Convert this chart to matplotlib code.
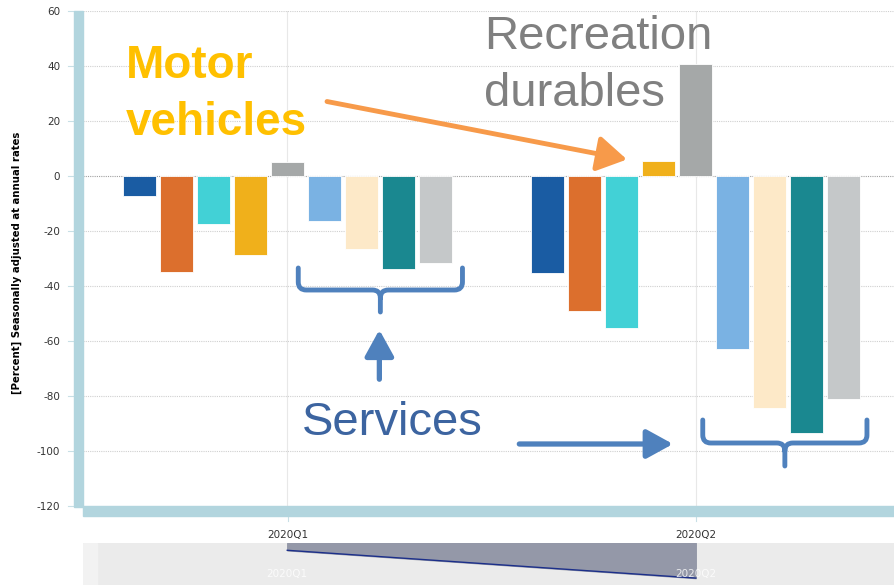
import numpy as np
import matplotlib.pyplot as plt
from matplotlib.patches import Rectangle
from matplotlib.path import Path
from matplotlib.patches import PathPatch

# Données
quarters = ["2020Q1", "2020Q2"]
serie_names = ["s1", "s2", "s3", "motor", "recreation", "s6", "s7", "s8", "s9"]
q1_values = [-7.3, -35.0, -17.4, -28.7, 5.0, -16.5, -26.7, -33.7, -31.7]
q2_values = [-35.1, -49.0, -55.3, 5.3, 40.7, -63.0, -84.2, -93.5, -81.0]
bar_colors = ["#1a5ca3", "#dc6f2d", "#42d1d6", "#f0b01b", "#a5a8a8",
              "#7ab2e3", "#fde9c8", "#1a8890", "#c5c8c9"]
y_ticks = [-120, -100, -80, -60, -40, -20, 0, 20, 40, 60]

W, H = 894, 585
plt.rcParams['font.family'] = ['DejaVu Sans']
plt.rcParams['axes.unicode_minus'] = False
fig = plt.figure(figsize=(W / 100, H / 100), dpi=100)

def fx(px):
    return px / W

def fy(py):
    return 1 - py / H

# axes principal (déborde un peu à droite comme l'original)
ax = fig.add_axes([fx(83), fy(506), fx(900) - fx(83), fy(11) - fy(506)])
ax.set_xlim(-0.5, 1.5)
ax.set_ylim(-120, 60)

x = np.arange(len(quarters))
step = 0.0907
width = 0.081
for i, col in enumerate(bar_colors):
    vals = [q1_values[i], q2_values[i]]
    ax.bar(x + (i - 4) * step, vals, width=width, color=col,
           edgecolor="white", linewidth=0.6, zorder=3)

# grille
for t in y_ticks:
    if t == -120:
        continue
    c = "#a0a0a0" if t == 0 else "#d0d0d0"
    ax.axhline(t, color=c, linestyle=(0, (1, 1)), linewidth=0.8, zorder=1)
for xi in x:
    ax.axvline(xi, color="#e8e8e8", linewidth=0.8, zorder=0)

ax.set_yticks(y_ticks)
ax.set_xticks([])
ax.tick_params(axis="y", length=0, labelsize=7.5, labelcolor="#333333", pad=16.5)
for s in ax.spines.values():
    s.set_visible(False)

# bandes bleu clair (axes)
band = "#b2d5de"
fig.add_artist(Rectangle((fx(74), fy(507)), fx(9), fy(11) - fy(507),
                         transform=fig.transFigure, color=band, zorder=5))
fig.add_artist(Rectangle((fx(83), fy(516)), 1, fy(506) - fy(516),
                         transform=fig.transFigure, color=band, zorder=5))
for t in y_ticks:
    py = 11 + (60 - t) * 2.75
    fig.add_artist(plt.Line2D([fx(68), fx(74)], [fy(py), fy(py)],
                              transform=fig.transFigure, color="#c8dfe6", lw=0.8))

# étiquettes x
for xi, q in zip(x, quarters):
    px = 288 + xi * 408
    fig.add_artist(plt.Line2D([fx(px), fx(px)], [fy(516), fy(521)],
                              transform=fig.transFigure, color="#c8dfe6", lw=0.8))
    fig.text(fx(px), fy(535), q, ha="center", va="center", fontsize=7.5, color="#333333")

fig.text(fx(17), fy(263), "[Percent] Seasonally adjusted at annual rates",
         rotation=90, ha="center", va="center", fontsize=7.3, fontweight="bold")

# navigateur
nav = fig.add_axes([fx(83), 0, fx(900) - fx(83), fy(543)])
nav.set_xlim(-0.5, 1.5)
nav.set_ylim(-42, 0)
nav.set_facecolor("#ebebeb")
nav.axvspan(-0.5, -0.465, color="#f2f2f2", zorder=1)
nav.fill_between(x, q1_values[:1] + q2_values[:1], 0, color="#9498a8", zorder=2)
nav.plot(x, [q1_values[0], q2_values[0]], color="#1c2f8a", lw=1, zorder=3)
nav.set_xticks([])
nav.set_yticks([])
for s in nav.spines.values():
    s.set_visible(False)
for xi, q in zip(x, quarters):
    nav.text(xi, -31, q, ha="center", va="center", fontsize=7.5, color="white", alpha=0.8, zorder=4)

# annotations
def to_data(px, py):
    return (px - 288) / 408, (176 - py) / 2.75

ann_font = ["Liberation Sans", "DejaVu Sans"]
tx, ty = to_data(127, 44)
ax.text(tx, ty, "Motor\nvehicles", color="#ffc000", fontsize=33, fontweight="bold",
        family=ann_font, ha="left", va="top", linespacing=1.38, zorder=6)
tx, ty = to_data(485, 15)
ax.text(tx, ty, "Recreation\ndurables", color="#808080", fontsize=34,
        family=ann_font, ha="left", va="top", linespacing=1.38, zorder=6)
tx, ty = to_data(303, 435)
ax.text(tx, ty, "Services", color="#3c64a0", fontsize=34,
        family=ann_font, ha="left", va="baseline", zorder=6)

ax.annotate("", xy=to_data(630, 160), xytext=to_data(325, 101),
            arrowprops=dict(arrowstyle="-|>,head_length=1.0,head_width=0.6",
                            color="#f79a4a", lw=3.5, mutation_scale=18), zorder=6)
blue = "#4f81bd"
ax.annotate("", xy=to_data(380, 327), xytext=to_data(380, 382),
            arrowprops=dict(arrowstyle="-|>,head_length=1.0,head_width=0.55",
                            color=blue, lw=3.8, mutation_scale=16), zorder=6)
ax.annotate("", xy=to_data(676, 444), xytext=to_data(517, 444),
            arrowprops=dict(arrowstyle="-|>,head_length=1.0,head_width=0.55",
                            color=blue, lw=3.8, mutation_scale=16), zorder=6)

def accolade(x0, x1, ytop, ymid, ytip, r=8):
    xm = (x0 + x1) / 2
    pts = [(x0, ytop), (x0, ymid - r), (x0, ymid), (x0 + r, ymid), (xm - r, ymid),
           (xm, ymid), (xm, ymid + r), (xm, ytip),
           (x1, ytop), (x1, ymid - r), (x1, ymid), (x1 - r, ymid), (xm + r, ymid),
           (xm, ymid), (xm, ymid + r)]
    codes = [Path.MOVETO, Path.LINETO, Path.CURVE3, Path.CURVE3, Path.LINETO,
             Path.CURVE3, Path.CURVE3, Path.LINETO,
             Path.MOVETO, Path.LINETO, Path.CURVE3, Path.CURVE3, Path.LINETO,
             Path.CURVE3, Path.CURVE3]
    verts = [to_data(px, py) for px, py in pts]
    ax.add_patch(PathPatch(Path(verts, codes), fill=False, edgecolor=blue, lw=3.5,
                           capstyle="round", joinstyle="round", zorder=6))

accolade(299, 463, 268, 290, 312)
accolade(703, 867, 420, 443, 466)

fig.savefig("out.png", dpi=100)
